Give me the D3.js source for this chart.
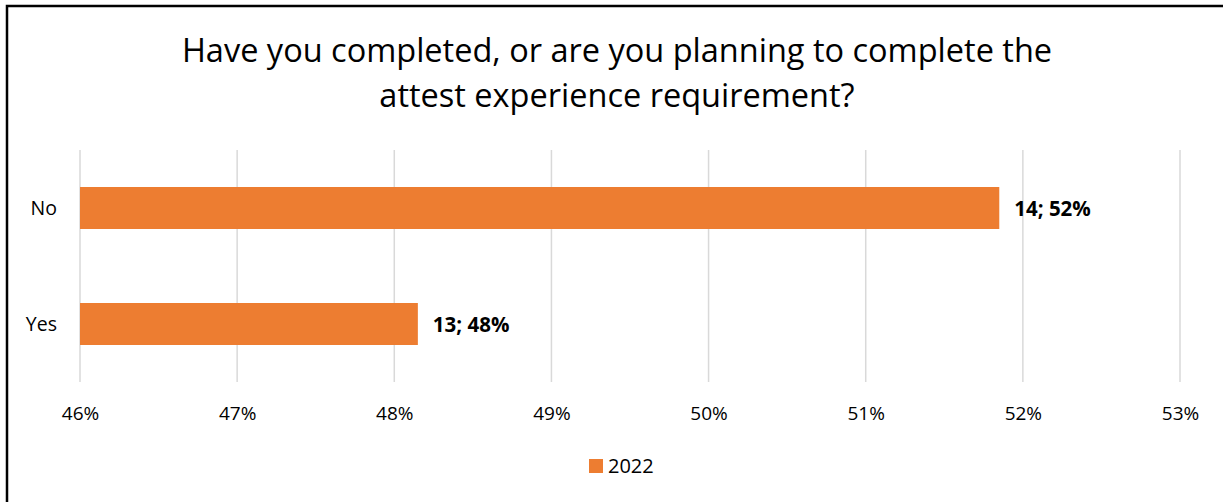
<!DOCTYPE html>
<html>
<head>
<meta charset="utf-8">
<script src="https://cdn.jsdelivr.net/npm/d3@7"></script>
<style>
  html, body { margin: 0; padding: 0; background: #fff; }
  svg { display: block; }
  text { font-family: "Open Sans", "Noto Sans", sans-serif; fill: #000; }
</style>
</head>
<body>
<svg id="chart" width="1223" height="502"></svg>
<script>
// Survey responses
const categories = ["No", "Yes"];
const counts = [14, 13];
const percents = [51.85, 48.15];
const seriesName = "2022";
const xTicks = [46, 47, 48, 49, 50, 51, 52, 53];
const titleLines = [
  "Have you completed, or are you planning to complete the",
  "attest experience requirement?"
];

const W = 1223, H = 502;
const orange = "#ED7D31";
const FONT = '"Open Sans", "Noto Sans", sans-serif';
const svg = d3.select("#chart");

// Chart frame (top and left edges visible)
svg.append("path")
  .attr("d", `M7,${H} L7,6 L${W},6`)
  .attr("fill", "none")
  .attr("stroke", "#000")
  .attr("stroke-width", 2.5);

// Title
svg.append("g").selectAll("text")
  .data(titleLines)
  .join("text")
  .attr("x", 617)
  .attr("y", (d, i) => 62 + i * 45)
  .attr("text-anchor", "middle")
  .attr("font-size", 32.5)
  .text(d => d);

const x = d3.scaleLinear().domain([46, 53]).range([80, 1180]);
const y = d3.scaleBand().domain(categories).range([150, 382]);
const barH = 42;

// Vertical gridlines
svg.append("g").selectAll("line")
  .data(xTicks)
  .join("line")
  .attr("x1", d => x(d)).attr("x2", d => x(d))
  .attr("y1", 150).attr("y2", 382)
  .attr("stroke", "#D9D9D9")
  .attr("stroke-width", 1.5);

// X axis labels
const xAxis = d3.axisBottom(x)
  .tickValues(xTicks)
  .tickFormat(d => d + "%")
  .tickSize(0)
  .tickPadding(0);
const gx = svg.append("g").attr("transform", "translate(0,420)").call(xAxis);
gx.select(".domain").remove();
gx.selectAll("text")
  .attr("dy", 0)
  .attr("y", 0)
  .attr("font-size", 19)
  .attr("fill", "#000")
  .style("font-family", FONT);

// Y axis labels
const yAxis = d3.axisLeft(y).tickSize(0).tickPadding(0);
const gy = svg.append("g").attr("transform", "translate(57,0)").call(yAxis);
gy.select(".domain").remove();
gy.selectAll("text")
  .attr("x", 0)
  .attr("dy", "0.36em")
  .attr("font-size", 19.5)
  .attr("fill", "#000")
  .style("font-family", FONT);

// Bars
const rows = categories.map((c, i) => ({ cat: c, n: counts[i], pct: percents[i] }));
svg.append("g").selectAll("rect")
  .data(rows)
  .join("rect")
  .attr("x", x(46))
  .attr("y", d => y(d.cat) + y.bandwidth() / 2 - barH / 2)
  .attr("width", d => x(d.pct) - x(46))
  .attr("height", barH)
  .attr("fill", orange);

// Data labels
svg.append("g").selectAll("text")
  .data(rows)
  .join("text")
  .attr("x", d => x(d.pct) + 15)
  .attr("y", d => y(d.cat) + y.bandwidth() / 2)
  .attr("dy", "0.38em")
  .attr("font-size", 20.5)
  .attr("font-weight", "bold")
  .text(d => `${d.n}; ${Math.round(d.pct)}%`);

// Legend
const lg = svg.append("g").attr("transform", "translate(589,459)");
lg.append("rect").attr("width", 14).attr("height", 14).attr("fill", orange);
lg.append("text").attr("x", 19).attr("y", 7).attr("dy", "0.36em")
  .attr("font-size", 20).text(seriesName);
</script>
</body>
</html>
